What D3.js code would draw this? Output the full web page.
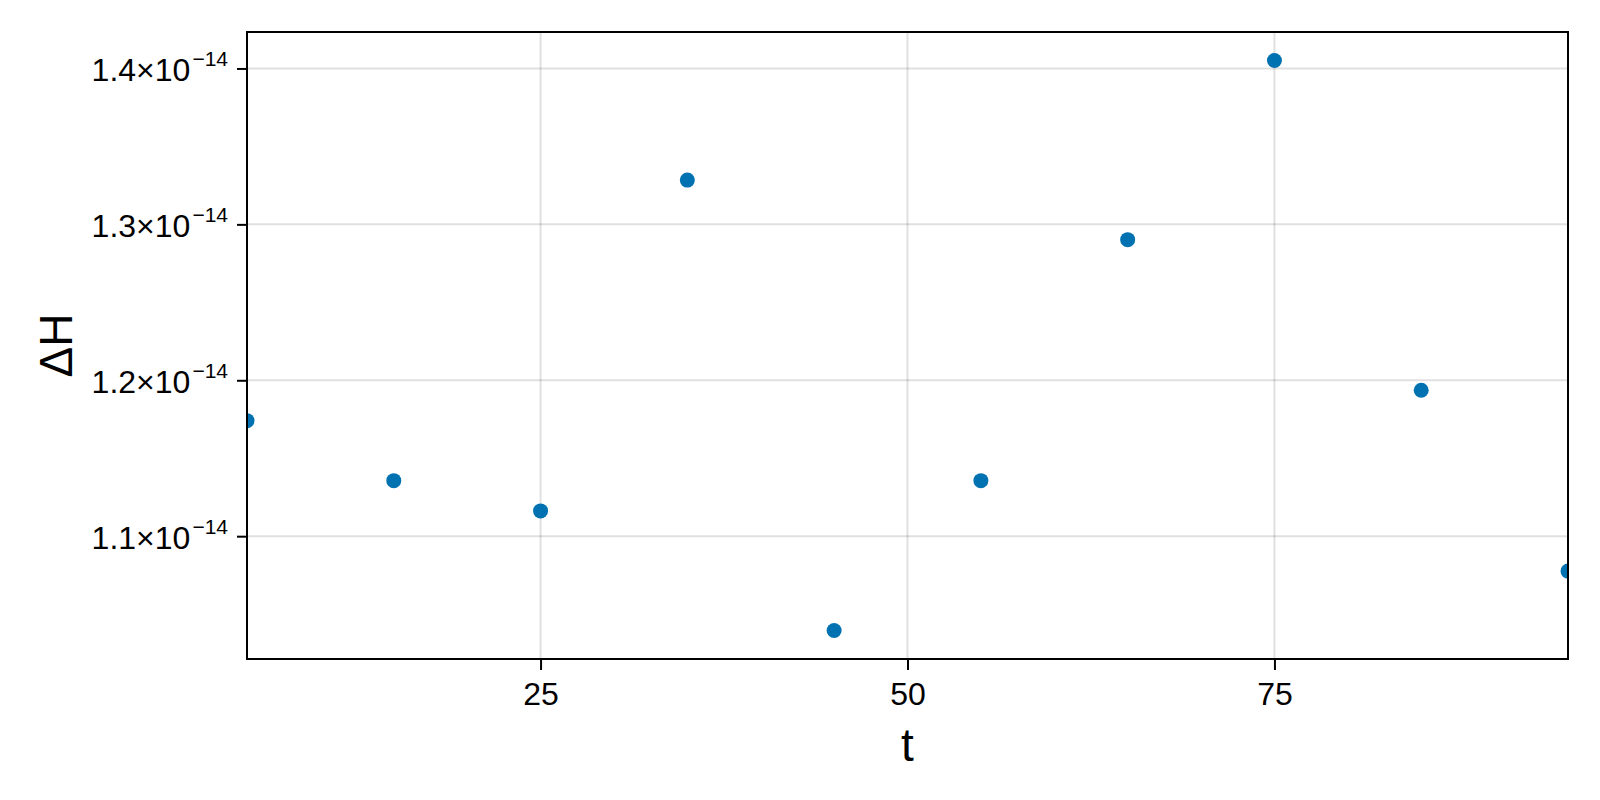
<!DOCTYPE html>
<html>
<head>
<meta charset="utf-8">
<script src="https://cdn.jsdelivr.net/npm/d3@7"></script>
<style>
  html, body { margin: 0; padding: 0; background: #fff; }
  svg { display: block; }
  text { font-family: "Liberation Sans", Arial, Helvetica, sans-serif; fill: #000; }
</style>
</head>
<body>
<script>
// ---- data ----
const tValues = [5, 15, 25, 35, 45, 55, 65, 75, 85, 95];
const dHValues = [1.1741e-14, 1.1356e-14, 1.1162e-14, 1.3284e-14, 1.0395e-14,
                  1.1356e-14, 1.2902e-14, 1.4051e-14, 1.1936e-14, 1.0776e-14];
const xTicks = [25, 50, 75];
const yTicks = [1.1e-14, 1.2e-14, 1.3e-14, 1.4e-14];
const yTickMantissa = ["1.1", "1.2", "1.3", "1.4"];
const yTickExponent = "−14";
const xLabel = "t";
const yLabel = "ΔH";

// ---- layout ----
const W = 1600, H = 800;
const plot = { left: 247, right: 1568, top: 32, bottom: 659 };
const pointColor = "#0072B2";
const fontFam = "'Liberation Sans', Arial, Helvetica, sans-serif";

const svg = d3.select("body").append("svg").attr("width", W).attr("height", H);

const x = d3.scaleLinear().domain([5, 95]).range([plot.left, plot.right]);
const [yMin, yMax] = d3.extent(dHValues);
const pad = (yMax - yMin) * 0.05;
const y = d3.scaleLinear().domain([yMin - pad, yMax + pad]).range([plot.bottom, plot.top]);

// clip
svg.append("defs").append("clipPath").attr("id", "clip")
  .append("rect")
  .attr("x", plot.left).attr("y", plot.top)
  .attr("width", plot.right - plot.left).attr("height", plot.bottom - plot.top);

// grid
const grid = svg.append("g");
grid.selectAll("line.gx").data(xTicks).join("line")
  .attr("x1", d => x(d)).attr("x2", d => x(d))
  .attr("y1", plot.top).attr("y2", plot.bottom)
  .attr("stroke", "#000").attr("stroke-opacity", 0.12).attr("stroke-width", 2);
grid.selectAll("line.gy").data(yTicks).join("line")
  .attr("y1", d => y(d)).attr("y2", d => y(d))
  .attr("x1", plot.left).attr("x2", plot.right)
  .attr("stroke", "#000").attr("stroke-opacity", 0.12).attr("stroke-width", 2);

// points
svg.append("g").attr("clip-path", "url(#clip)")
  .selectAll("circle").data(tValues.map((t, i) => [t, dHValues[i]])).join("circle")
  .attr("cx", d => x(d[0])).attr("cy", d => y(d[1])).attr("r", 7.5)
  .attr("fill", pointColor);

// spines
svg.append("rect")
  .attr("x", plot.left).attr("y", plot.top)
  .attr("width", plot.right - plot.left).attr("height", plot.bottom - plot.top)
  .attr("fill", "none").attr("stroke", "#000").attr("stroke-width", 2);

// x axis
const gx = svg.append("g").attr("transform", `translate(0,${plot.bottom})`)
  .call(d3.axisBottom(x).tickValues(xTicks).tickSize(11).tickPadding(12).tickFormat(d3.format("d")));
gx.attr("font-size", 32).attr("font-family", fontFam);
gx.select(".domain").remove();
gx.selectAll(".tick line").attr("stroke-width", 2);

// y axis
const gy = svg.append("g").attr("transform", `translate(${plot.left},0)`)
  .call(d3.axisLeft(y).tickValues(yTicks).tickSize(10).tickFormat(() => ""));
gy.attr("font-size", 32).attr("font-family", fontFam);
gy.select(".domain").remove();
gy.selectAll(".tick line").attr("stroke-width", 2);
gy.selectAll(".tick text").remove();
gy.selectAll(".tick").each(function(d, i) {
  const t = d3.select(this).append("text")
    .attr("x", -19).attr("y", 12)
    .attr("text-anchor", "end")
    .attr("fill", "#000");
  t.append("tspan").text(yTickMantissa[i] + "×10");
  t.append("tspan").attr("dy", -15).attr("dx", 2).attr("font-size", 21).text(yTickExponent);
});

// axis labels
svg.append("text")
  .attr("x", (plot.left + plot.right) / 2).attr("y", 761)
  .attr("text-anchor", "middle").attr("font-size", 46).text(xLabel);

svg.append("text")
  .attr("transform", `translate(72,${(plot.top + plot.bottom) / 2}) rotate(-90)`)
  .attr("text-anchor", "middle").attr("font-size", 46).text(yLabel);
</script>
</body>
</html>
